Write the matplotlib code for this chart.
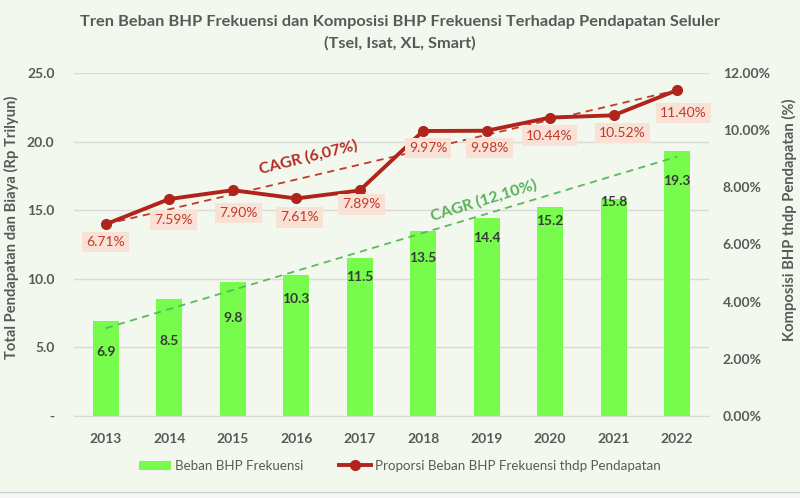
import matplotlib
matplotlib.use("Agg")
import matplotlib.pyplot as plt
from matplotlib.lines import Line2D
from matplotlib.patches import Patch
from matplotlib.ticker import FuncFormatter, MultipleLocator

plt.rcParams['font.family'] = ['Lato', 'DejaVu Sans']

years = ['2013', '2014', '2015', '2016', '2017', '2018', '2019', '2020', '2021', '2022']
beban_bhp = [6.9, 8.5, 9.8, 10.3, 11.5, 13.5, 14.4, 15.2, 15.8, 19.3]
proporsi = [6.71, 7.59, 7.90, 7.61, 7.89, 9.97, 9.98, 10.44, 10.52, 11.40]
# trend lines (start, end)
trend_bhp = [6.4, 18.9]
trend_prop = [6.71, 11.40]
cagr_bhp = 'CAGR (12,10%)'
cagr_prop = 'CAGR (6,07%)'

bg = '#F2F8EE'
green = '#77FB4D'
red = '#B0241B'
txt_red = '#C0392B'
gray = '#595959'

fig = plt.figure(figsize=(8, 4.98), dpi=100, facecolor=bg)
ax = fig.add_axes([0.0925, 0.1647, 0.7935, 0.6887])
ax.set_facecolor(bg)
ax2 = ax.twinx()

x = list(range(len(years)))
bars = ax.bar(x, beban_bhp, width=0.41, color=green, zorder=2)
ax.set_xlim(-0.5, len(years) - 0.5)
ax.set_ylim(0, 25)
ax.yaxis.set_major_locator(MultipleLocator(5))
ax.yaxis.set_major_formatter(FuncFormatter(lambda v, p: '-' if v == 0 else f'{v:.1f}'))
ax.grid(axis='y', color='#D9D9D9', linewidth=1, zorder=0)
ax.set_axisbelow(True)
ax.set_xticks(x)
ax.set_xticklabels(years)

# bar labels, pixel offsets below the bar top
bar_off = [31, 42, 36, 24, 19, 27, 20, 14, 3, 30]
for i, v in enumerate(beban_bhp):
    ax.annotate(f'{v:.1f}', (i, v), xytext=(0, -bar_off[i]), textcoords='offset pixels',
                ha='center', va='center', fontsize=10, fontweight='bold', color='#3A3A3A', zorder=3)

ax.plot([x[0], x[-1]], trend_bhp, color='#5CB85C', linestyle=(0, (4, 3)), linewidth=1.3, zorder=3)
ax.text(5.95, 15.7, cagr_bhp, color='#5CAF5C', fontsize=11.5, fontweight='bold',
        rotation=17, ha='center', va='center', zorder=4)

ax2.set_ylim(0, 12)
ax2.yaxis.set_major_locator(MultipleLocator(2))
ax2.yaxis.set_major_formatter(FuncFormatter(lambda v, p: f'{v:.2f}%'))
ax2.plot([x[0], x[-1]], trend_prop, color='#C0392B', linestyle=(0, (4, 3)), linewidth=1.3, zorder=3)
ax2.plot(x, proporsi, color=red, linewidth=2.8, marker='o', markersize=7, zorder=4)
ax2.text(3.2, 9.05, cagr_prop, color='#B52A22', fontsize=11.5, fontweight='bold',
         rotation=14, ha='center', va='center', zorder=5)

lab_off = [(0, -18), (4, -21), (6, -23), (3, -19), (2, -14), (5, -17), (3, -17), (-1, -18), (9, -18), (6, -23)]
for i, v in enumerate(proporsi):
    ax2.annotate(f'{v:.2f}%', (i, v), xytext=lab_off[i], textcoords='offset pixels',
                 ha='center', va='center', fontsize=10, color=txt_red, zorder=6,
                 bbox=dict(boxstyle='square,pad=0.3', facecolor='#FAE1D6', edgecolor='none'))

for a in (ax, ax2):
    for s in a.spines.values():
        s.set_visible(False)
    a.tick_params(length=0, labelsize=10, labelcolor=gray)
    for t in a.get_xticklabels() + a.get_yticklabels():
        t.set_fontweight('bold')
ax.spines['bottom'].set_visible(True)
ax.spines['bottom'].set_color('#D9D9D9')
ax.tick_params(axis='x', pad=12)
ax.tick_params(axis='y', pad=14)
ax2.tick_params(axis='y', pad=10)

ax.set_ylabel('Total Pendapatan dan Biaya (Rp Trilyun)', fontsize=10.6, fontweight='bold', color=gray)
ax.yaxis.set_label_coords(-0.087, 0.55)
ax2.set_ylabel('Komposisi BHP thdp Pendapatan (%)', fontsize=10.6, fontweight='bold', color=gray)
ax2.yaxis.set_label_coords(1.116, 0.571)

fig.text(0.5, 0.955, 'Tren Beban BHP Frekuensi dan Komposisi BHP Frekuensi Terhadap Pendapatan Seluler',
         ha='center', va='center', fontsize=11.8, fontweight='bold', color=gray)
fig.text(0.5, 0.912, '(Tsel, Isat, XL, Smart)', ha='center', va='center', fontsize=11.8, fontweight='bold', color=gray)

handles = [Patch(facecolor=green, edgecolor='none'),
           Line2D([], [], color=red, linewidth=2.8, marker='o', markersize=7)]
fig.legend(handles, ['Beban BHP Frekuensi', 'Proporsi Beban BHP Frekuensi thdp Pendapatan'],
           loc='center', bbox_to_anchor=(0.5, 0.064), ncol=2, frameon=False, fontsize=9.6,
           labelcolor=gray, columnspacing=2.7, handlelength=2.4, handletextpad=0.3)

fig.add_artist(Line2D([0, 1], [0.013, 0.013], color='#D0D0D0', linewidth=1, transform=fig.transFigure))
fig.patches.append(plt.Rectangle((0, 0), 1, 0.012, transform=fig.transFigure, facecolor='#F7F7F7', edgecolor='none'))

fig.savefig('out.png', dpi=100, facecolor=bg)
